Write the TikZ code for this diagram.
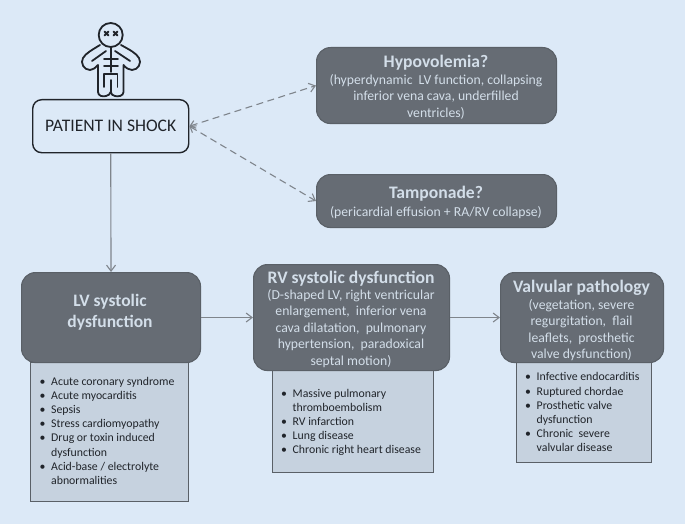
\documentclass[tikz,border=0pt]{standalone}
\usepackage{fontspec}
\setmainfont{Carlito}
\usetikzlibrary{arrows.meta}
\definecolor{bgc}{HTML}{DCE9F7}
\definecolor{darkc}{HTML}{666C74}
\definecolor{darkl}{HTML}{5A6067}
\definecolor{listc}{HTML}{C6D2DF}
\definecolor{lighttxt}{HTML}{D3DEE9}
\definecolor{arrowc}{HTML}{7F858C}
\definecolor{ink}{HTML}{20242A}
\tikzset{
  x=1pt,y=-1pt,
  darkbox/.style={draw=darkl,line width=1.1pt,fill=darkc,rounded corners=14pt,text=lighttxt,align=center,inner sep=0pt,anchor=north west},
  listbox/.style={draw=darkl,line width=1.1pt,fill=listc,anchor=north west,inner sep=0pt},
  conn/.style={draw=arrowc,line width=1.1pt,-{Straight Barb[length=6pt,width=9pt]}},
  dconn/.style={draw=arrowc,line width=1.1pt,dash pattern=on 7pt off 4.5pt,{Straight Barb[length=5pt,width=8pt]}-{Straight Barb[length=6pt,width=9pt]}},
  boxtxt/.style={text=lighttxt,align=center,anchor=north,inner sep=0pt,font=\fontsize{13.7}{16.4}\selectfont},
  listtxt/.style={anchor=north west,inner sep=0pt,text=ink,align=left,font=\fontsize{11.8}{14.15}\selectfont},
  icon/.style={draw=ink,line width=1.8pt,line cap=round,line join=round}
}
\newcommand{\bitem}[1]{\makebox[11.5pt][l]{\textbullet}#1}
\newcommand{\ttl}[1]{{\fontsize{17.6}{20}\selectfont\bfseries #1}}
\begin{document}
\begin{tikzpicture}
\useasboundingbox[fill=bgc] (0,0) rectangle (685,524);
% icon
\draw[icon] (110.7,35) circle (12);
\draw[icon] (100,45) .. controls (92,50) and (86,53) .. (83,58) .. controls (80,63) and (84,70) .. (90,70) .. controls (93,70) and (95,68) .. (98,65) -- (98,92) .. controls (98,96) and (103,97) .. (106,96) .. controls (108,96) and (110,94) .. (110.7,92) .. controls (111,94) and (113,96) .. (115,96) .. controls (118,97) and (123.5,96) .. (123.5,92) -- (123.5,65) .. controls (126,68) and (129,70) .. (132,70) .. controls (138,70) and (142,63) .. (139,58) .. controls (136,53) and (130,50) .. (121,45);
\draw[icon] (110.7,47) -- (110.7,72);
\draw[icon] (92,61) -- (106,51);
\draw[icon] (130,61) -- (115,51);
\draw[icon] (104,59.3) -- (118,59.3);
\draw[icon] (104,65.7) -- (118,65.7);
\draw[icon] (104,87) -- (104,74) -- (117.5,74) -- (117.5,87);
\draw[icon] (110.7,80) -- (110.7,92);
\foreach \ex in {106.5,115.5}{
  \draw[icon] (\ex-2,31.5) -- (\ex+2,35.5) (\ex-2,35.5) -- (\ex+2,31.5);
}
% boxes
\node[draw=ink,line width=1.4pt,fill=bgc,rounded corners=9pt,minimum width=156pt,minimum height=53pt,inner sep=0pt,anchor=north west,text=ink,font=\fontsize{17.6}{20}\selectfont] (patient) at (32,99) {PATIENT IN SHOCK};
\node[darkbox,minimum width=240pt,minimum height=76pt] (hypo) at (316,47) {};
\node[darkbox,minimum width=240pt,minimum height=53pt] (tamp) at (316,174) {};
\node[listbox,minimum width=158pt,minimum height=139pt] (lvlist) at (30,362) {};
\node[listbox,minimum width=161pt,minimum height=102pt] (rvlist) at (272,370) {};
\node[listbox,minimum width=135pt,minimum height=100pt] (vplist) at (516,362) {};
\node[darkbox,minimum width=179pt,minimum height=90pt] (lv) at (21,272) {};
\node[darkbox,minimum width=196pt,minimum height=106pt] (rv) at (253,264) {};
\node[darkbox,minimum width=163pt,minimum height=90pt] (vp) at (500,272) {};
% texts
\node[boxtxt] (hypot) at (436,54.5) {\ttl{Hypovolemia?}\\[1pt](hyperdynamic\ \ LV function, collapsing\\inferior vena cava, underfilled\\ventricles)};
\node[boxtxt] (tampt) at (436,186) {\ttl{Tamponade?}\\[1.5pt](pericardial effusion + RA/RV collapse)};
\node[boxtxt,font=\fontsize{17.5}{21}\selectfont\bfseries] (lvt) at (110,294) {LV systolic\\dysfunction};
\node[boxtxt] (rvt) at (351,271) {\ttl{RV systolic dysfunction}\\[-0.5pt](D-shaped LV, right ventricular\\enlargement,\ \ inferior vena\\cava dilatation,\ \ pulmonary\\hypertension,\ \ paradoxical\\septal motion)};
\node[boxtxt] (vpt) at (581.5,279.5) {\ttl{Valvular pathology}\\[1pt](vegetation, severe\\regurgitation,\ \ flail\\leaflets,\ \ prosthetic\\valve dysfunction)};
\node[listtxt] (lvl) at (39.5,377) {\bitem{Acute coronary syndrome}\\\bitem{Acute myocarditis}\\\bitem{Sepsis}\\\bitem{Stress cardiomyopathy}\\\bitem{Drug or toxin induced}\\\hspace*{11.5pt}dysfunction\\\bitem{Acid-base / electrolyte}\\\hspace*{11.5pt}abnormalities};
\node[listtxt] (rvl) at (281,389) {\bitem{Massive pulmonary}\\\hspace*{11.5pt}thromboembolism\\\bitem{RV infarction}\\\bitem{Lung disease}\\\bitem{Chronic right heart disease}};
\node[listtxt] (vpl) at (525,372.5) {\bitem{Infective endocarditis}\\\bitem{Ruptured chordae}\\\bitem{Prosthetic valve}\\\hspace*{11.5pt}dysfunction\\\bitem{Chronic\ \ severe}\\\hspace*{11.5pt}valvular disease};
% connectors
\draw[conn] (patient.south) -- (lv.north);
\draw[conn] (lv.east) -- (rv.west);
\draw[conn] (rv.east) -- (vp.west);
\draw[dconn] (patient.east) -- (hypo.west);
\draw[dconn] (patient.east) -- (tamp.west);
\end{tikzpicture}
\end{document}
